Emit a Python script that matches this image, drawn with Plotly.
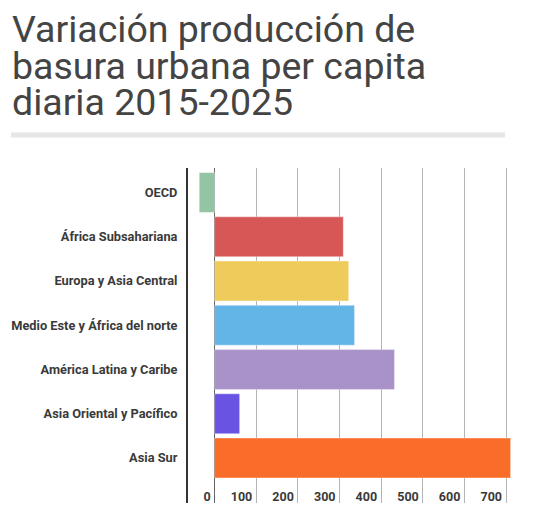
import plotly.graph_objects as go

# datos
regiones = ["OECD", "África Subsahariana", "Europa y Asia Central",
            "Medio Este y África del norte", "América Latina y Caribe",
            "Asia Oriental y Pacífico", "Asia Sur"]
variacion = [-37, 309, 322, 336, 432, 60, 711]
colores = ["#93c4a4", "#d75656", "#eecb5a", "#64b5e7",
           "#a991c9", "#6953e3", "#fa6c29"]
ticks_x = [0, 100, 200, 300, 400, 500, 600, 700]

# la pagina tiene 8px de margen en el body
OFF = 8
W, H = 539 - OFF, 529 - OFF
L, R, T, B = 188 - OFF, 28, 168 - OFF, 26
pw, ph = W - L - R, H - T - B


# pixel de la ventana -> coordenada paper
def px(x):
    return (x - OFF - L) / pw


def py(y):
    return (H - B - (y - OFF)) / ph


fig = go.Figure(go.Bar(
    x=variacion,
    y=regiones,
    orientation="h",
    marker=dict(color=colores, line=dict(color="rgba(255,255,255,0.35)", width=1)),
    hoverinfo="x+y",
))

titulo = ["Variación producción de", "basura urbana per capita", "diaria 2015-2025"]
for i, linea in enumerate(titulo):
    fig.add_annotation(
        text=linea, xref="paper", yref="paper",
        x=px(10), y=py(53 + i * 36.7), xanchor="left", yanchor="bottom",
        showarrow=False, font=dict(family="Roboto", size=37.5, color="#444444"),
    )

# barra gris bajo el titulo
fig.add_shape(type="rect", xref="paper", yref="paper",
              x0=px(11), x1=px(505), y0=py(137.5), y1=py(132.5),
              fillcolor="#e6e6e6", line_width=0, layer="below")

fig.update_layout(
    width=W, height=H,
    margin=dict(l=L, r=R, t=T, b=B),
    plot_bgcolor="white", paper_bgcolor="white",
    bargap=0.1,
    showlegend=False,
    font=dict(family="Roboto", color="#333333"),
    xaxis=dict(
        range=[-64, 712],
        tickvals=ticks_x,
        ticktext=[str(t) for t in ticks_x],
        showgrid=True, gridcolor="#b4b4b4", gridwidth=1,
        zeroline=True, zerolinecolor="#666666", zerolinewidth=1,
        ticklabelposition="inside left",
        ticklabelstandoff=-6, ticklabelshift=-4,
        tickfont=dict(size=12.5, color="#3a3a3a", weight="bold"),
        showline=False,
        automargin=False,
        fixedrange=True,
    ),
    yaxis=dict(
        type="category",
        categoryarray=regiones,
        range=[7.017, -0.554],
        showgrid=False,
        showline=True, linecolor="#333333", linewidth=2,
        ticks="", ticklabelstandoff=6,
        tickfont=dict(size=12.8, color="#3a3a3a", weight="bold"),
        automargin=False,
        fixedrange=True,
    ),
)

fig.write_html("out.html")
